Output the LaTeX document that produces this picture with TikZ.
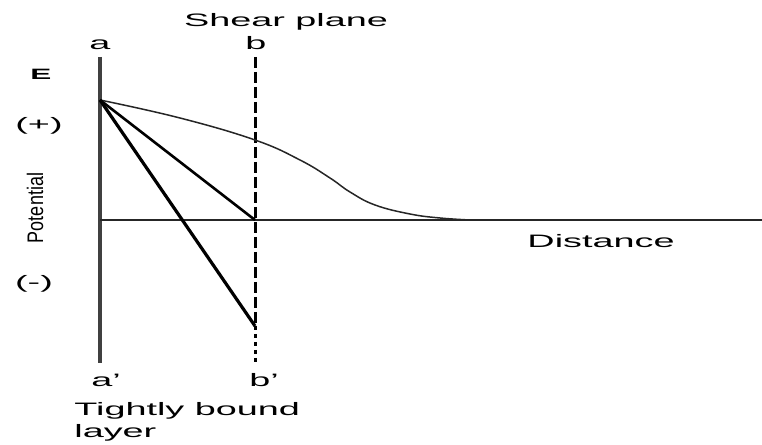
\documentclass[tikz,border=0pt]{standalone}
\usepackage{fontspec}
\setmainfont{Liberation Sans}
\tikzset{
  lbl/.style={font=\fontsize{18}{20}\selectfont, xscale=2.1, inner sep=0pt},
  plane/.style={line width=3pt, dash pattern=on 11pt off 4pt}
}
\begin{document}
\begin{tikzpicture}[x=1pt, y=1pt, line cap=butt]
				\useasboundingbox (0,0) rectangle (762,444);
				% 坐标点
				\coordinate (atop) at (100,387);
				\coordinate (abot) at (100,81);
				\coordinate (btop) at (255,387);
				\coordinate (bbot) at (255,81);
				\coordinate (P) at (100,344);
				\coordinate (O) at (100,224);
				\coordinate (xend) at (762,224);
				\coordinate (bzero) at (255,224);
				\coordinate (blow) at (255,118);
				
				% 表面 a-a' 与剪切面 b-b'
				\draw[line width=3.4pt, black!75] (atop) -- (abot);
				\draw[plane] (btop) -- (blow);
				\draw[line width=3pt, dash pattern=on 4pt off 4pt] (blow) -- (bbot);
				
				% 距离轴
				\draw[line width=1.8pt, black!85] (O) -- (xend);
				
				% 电势曲线
				\draw[line width=1.5pt, black!85] plot[smooth, tension=0.7] coordinates
					{(P) (180,326) (255,304) (300,284) (330,266) (350,252) (375,239) (410,230) (440,226) (470,224)};
				\draw[line width=2.6pt] (P) -- (bzero);
				\draw[line width=3.2pt] (P) -- (blow);
				
				% 标注
				\node[lbl, anchor=base] (shear) at (286,417) {Shear plane};
				\node[lbl, anchor=base] (la) at (100,394) {a};
				\node[lbl, anchor=base] (lb) at (256,394) {b};
				\node[lbl, anchor=base] (la2) at (106,57) {a'};
				\node[lbl, anchor=base] (lb2) at (264,57) {b'};
				\node[lbl, anchor=base, font=\fontsize{15}{17}\selectfont\bfseries] (E) at (41,364) {E};
				\node[lbl] (plus) at (39,318) {(+)};
				\node[lbl] (minus) at (34,160) {(-)};
				\node[font=\fontsize{18}{20}\selectfont, rotate=90, inner sep=0pt] (pot) at (35,236) {\scalebox{1}[1.25]{Potential}};
				\node[lbl, anchor=base] (dist) at (601,196) {Distance};
				\node[lbl, anchor=base west] (tb) at (74,29) {Tightly bound};
				\node[lbl, anchor=base west] (ly) at (74,7) {layer};
			\end{tikzpicture}
\end{document}
